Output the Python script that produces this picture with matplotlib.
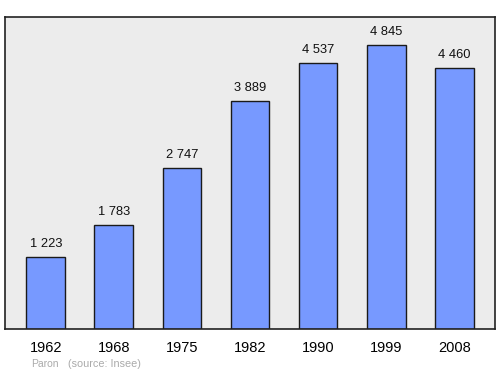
import matplotlib
matplotlib.use("Agg")
import matplotlib.pyplot as plt

years = ["1962", "1968", "1975", "1982", "1990", "1999", "2008"]
population = [1223, 1783, 2747, 3889, 4537, 4845, 4460]
value_labels = ["1 223", "1 783", "2 747", "3 889", "4 537", "4 845", "4 460"]

plt.rcParams['font.family'] = ['Liberation Sans', 'DejaVu Sans']
fig = plt.figure(figsize=(5.0, 3.74), dpi=100)
ax = fig.add_axes([5/500, 1 - 329/374, 490/500, (329-17)/374])
ax.set_facecolor('#ececec')
x = list(range(len(years)))
ax.bar(x, population, width=0.57, color='#7799ff', edgecolor='#1a1a1a', linewidth=1.0, zorder=2)
for xi, v, lab in zip(x, population, value_labels):
    ax.text(xi, v + 170, lab, ha='center', va='baseline', fontsize=9.3, color='#111111')
ax.set_xlim(-0.6, 6.6)
ax.set_ylim(0, 5330)
ax.set_yticks([])
ax.set_xticks(x)
ax.set_xticklabels(years, fontsize=10.5)
ax.tick_params(axis='x', length=0, pad=9)
for s in ax.spines.values():
    s.set_color('#222222')
    s.set_linewidth(1.2)
fig.text(31/500, 1 - 364/374, "Paron", fontsize=7.5, color='#aaaaaa', va='center')
fig.text(68/500, 1 - 364/374, "(source: Insee)", fontsize=7.8, color='#aaaaaa', va='center')
fig.savefig("out.png", dpi=100)
